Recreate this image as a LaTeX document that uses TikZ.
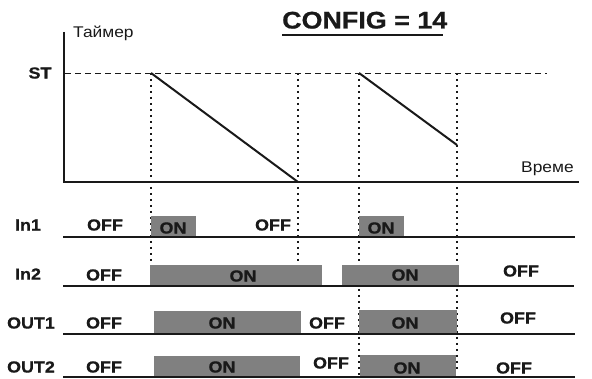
\documentclass[tikz,border=0pt]{standalone}
\usepackage{fontspec}
\setmainfont{Liberation Sans}[FakeStretch=1.12, BoldFeatures={FakeBold=0.8}]
\usepackage{tikz}
\definecolor{ink}{RGB}{25,25,25}
\definecolor{ongray}{RGB}{128,128,128}
\tikzset{
  lbl/.style={font=\fontsize{16}{19}\selectfont\bfseries, text=ink, inner sep=0pt},
  axlbl/.style={font=\fontsize{15.5}{18}\selectfont, text=ink, inner sep=0pt, anchor=base west},
  onbox/.style={fill=ongray},
  baseline/.style={draw=ink, line width=1.7pt},
  guide/.style={draw=ink, line width=1.7pt, dash pattern=on 1.7pt off 4.3pt},
  stline/.style={draw=ink, line width=0.9pt, dash pattern=on 6pt off 4pt}
}

\begin{document}
\begin{tikzpicture}[x=1pt,y=-1pt]
\useasboundingbox (0,0) rectangle (592,379);
\node [lbl, font=\fontsize{24}{28}\selectfont\bfseries, anchor=base west] (title) at (282,28.5) {CONFIG = 14};
\draw [ink, line width=2pt] (282,35) -- (443,35);
\draw [guide] (151,73) -- (151,262);
\draw [guide] (298,73) -- (298,262);
\draw [guide] (359,73) -- (359,377);
\draw [guide] (457,73) -- (457,370);
\draw [stline] (65,73) -- (547,73);
\draw [baseline] (64,32) -- (64,182) -- (579,182);
\draw [ink, line width=2pt] (151,73) -- (298,182);
\draw [ink, line width=2pt] (359,73) -- (457,145);
\node [axlbl] (timer) at (73,38) {Таймер};
\node [axlbl] (time) at (521,173) {Време};
\node [lbl] (st) at (40,73) {ST};
\fill [onbox] (151,216) rectangle (196,237);
\fill [onbox] (359,216) rectangle (404,237);
\fill [onbox] (150,265) rectangle (322,286);
\fill [onbox] (342,265) rectangle (459,286);
\fill [onbox] (154,311) rectangle (301,334);
\fill [onbox] (359,310) rectangle (457,334);
\fill [onbox] (154,356) rectangle (300,377);
\fill [onbox] (360,355) rectangle (456,377);
\draw [baseline] (63,237) -- (575,237);
\draw [baseline] (63,286) -- (574,286);
\draw [baseline] (63,334) -- (575,334);
\draw [baseline] (63,377) -- (575,377);
\node [lbl] (in1) at (28,225) {In1};
\node [lbl] (in2) at (28,274) {In2};
\node [lbl] (out1) at (31,323) {OUT1};
\node [lbl] (out2) at (31,367) {OUT2};
\node [lbl] (in1off1) at (105,225) {OFF};
\node [lbl] (in1on1) at (173,228) {ON};
\node [lbl] (in1off2) at (273,225) {OFF};
\node [lbl] (in1on2) at (381,228) {ON};
\node [lbl] (in2off1) at (104,275) {OFF};
\node [lbl] (in2on1) at (243,276) {ON};
\node [lbl] (in2on2) at (405,275) {ON};
\node [lbl] (in2off2) at (521,271) {OFF};
\node [lbl] (out1off1) at (104,323) {OFF};
\node [lbl] (out1on1) at (222,323) {ON};
\node [lbl] (out1off2) at (327,323) {OFF};
\node [lbl] (out1on2) at (405,323) {ON};
\node [lbl] (out1off3) at (518,318) {OFF};
\node [lbl] (out2off1) at (104,367) {OFF};
\node [lbl] (out2on1) at (222,367) {ON};
\node [lbl] (out2off2) at (331,363) {OFF};
\node [lbl] (out2on2) at (407,368) {ON};
\node [lbl] (out2off3) at (514,368) {OFF};
\end{tikzpicture}
\end{document}
